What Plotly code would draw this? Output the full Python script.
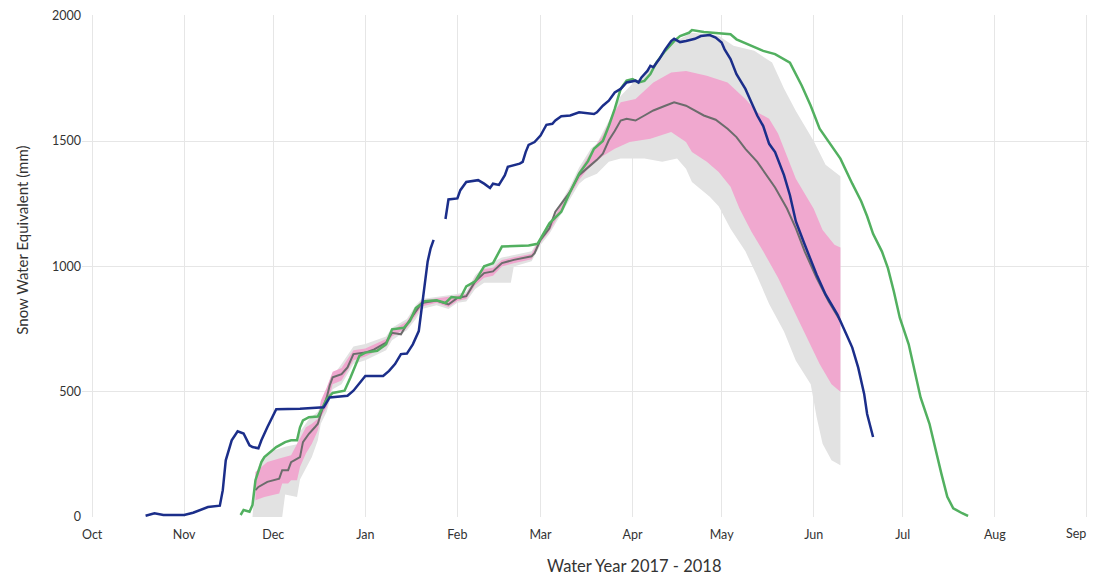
import plotly.graph_objects as go

# ---- Current water year (blue) ----
blue_dates = ["2017-10-19","2017-10-22","2017-10-25","2017-11-01","2017-11-04","2017-11-09","2017-11-13","2017-11-14",
    "2017-11-15","2017-11-17","2017-11-19","2017-11-21","2017-11-23","2017-11-24","2017-11-26","2017-11-27","2017-11-29",
    "2017-12-02","2017-12-10","2017-12-18","2017-12-20","2017-12-26","2017-12-28","2017-12-31","2018-01-01","2018-01-07",
    "2018-01-09","2018-01-11","2018-01-13","2018-01-15","2018-01-17","2018-01-19","2018-01-20","2018-01-21","2018-01-22",
    "2018-01-23","2018-01-24","2018-01-26","2018-01-28","2018-01-29","2018-02-01","2018-02-02","2018-02-04","2018-02-08",
    "2018-02-10","2018-02-12","2018-02-13","2018-02-15","2018-02-17","2018-02-18","2018-02-22","2018-02-23","2018-02-24",
    "2018-02-25","2018-02-27","2018-03-01","2018-03-03","2018-03-05","2018-03-06","2018-03-08","2018-03-11","2018-03-14",
    "2018-03-19","2018-03-20","2018-03-22","2018-03-24","2018-03-26","2018-03-28","2018-03-30","2018-04-02","2018-04-03",
    "2018-04-04","2018-04-06","2018-04-07","2018-04-08","2018-04-10","2018-04-12","2018-04-14","2018-04-15","2018-04-17",
    "2018-04-19","2018-04-22","2018-04-24","2018-04-27","2018-04-29","2018-05-01","2018-05-02","2018-05-04","2018-05-06",
    "2018-05-09","2018-05-11","2018-05-13","2018-05-15","2018-05-17","2018-05-19","2018-05-22","2018-05-24","2018-05-26",
    "2018-05-29","2018-06-02","2018-06-05","2018-06-09","2018-06-12","2018-06-14","2018-06-16","2018-06-18","2018-06-19",
    "2018-06-21"]
blue_swe = [5,15,8,8,17,40,45,107,226,306,342,333,286,279,274,306,358,
    430,432,438,477,484,504,550,563,563,583,610,650,652,689,742,834,914,1020,
    1072,1106,None,1189,1267,1271,1304,1337,1344,1330,1313,1330,1325,1364,1397,1410,1417,1456,
    1485,1496,1522,1565,1569,1582,1599,1602,1615,1608,1615,1641,1661,1694,1708,1734,1741,1734,
    1754,1780,1800,1795,1827,1866,1899,1908,1895,1899,1908,1919,1923,1913,1893,1866,1827,1767,
    1708,1655,1602,1560,1489,1456,1364,1284,1179,1086,967,888,808,729,676,596,491,411,319]

# ---- Comparison year (green) ----
green_dates = ["2017-11-20","2017-11-21","2017-11-23","2017-11-24","2017-11-25","2017-11-27","2017-11-28","2017-11-30",
    "2017-12-02","2017-12-05","2017-12-07","2017-12-09","2017-12-10","2017-12-11","2017-12-13","2017-12-16","2017-12-18",
    "2017-12-19","2017-12-21","2017-12-25","2017-12-27","2017-12-30","2018-01-01","2018-01-05","2018-01-08","2018-01-10",
    "2018-01-14","2018-01-16","2018-01-18","2018-01-21","2018-01-25","2018-01-28","2018-01-30","2018-02-02","2018-02-04",
    "2018-02-07","2018-02-10","2018-02-13","2018-02-16","2018-02-25","2018-02-28","2018-03-01","2018-03-04","2018-03-08",
    "2018-03-11","2018-03-14","2018-03-17","2018-03-19","2018-03-22","2018-03-24","2018-03-26","2018-03-28","2018-03-30",
    "2018-04-01","2018-04-03","2018-04-05","2018-04-07","2018-04-09","2018-04-12","2018-04-15","2018-04-17","2018-04-20",
    "2018-04-21","2018-04-25","2018-05-02","2018-05-04","2018-05-06","2018-05-11","2018-05-15","2018-05-19","2018-05-24",
    "2018-05-28","2018-05-31","2018-06-03","2018-06-07","2018-06-10","2018-06-14","2018-06-17","2018-06-19","2018-06-21",
    "2018-06-24","2018-06-26","2018-06-28","2018-06-30","2018-07-03","2018-07-05","2018-07-07","2018-07-10","2018-07-12",
    "2018-07-14","2018-07-16","2018-07-18","2018-07-21","2018-07-23"]
green_swe = [8,28,21,48,147,219,239,259,279,299,306,306,358,385,398,401,444,
    470,495,504,557,643,656,663,689,749,755,782,834,861,865,854,878,874,920,
    940,1000,1013,1079,1083,1090,1112,1172,1218,1298,1370,1420,1469,1500,1560,1628,1708,1741,
    1747,1734,1740,1767,1813,1860,1899,1919,1932,1943,1935,1930,1926,1906,1880,1860,1847,1813,
    1721,1641,1549,1483,1430,1330,1260,1200,1130,1059,993,900,795,689,583,477,372,266,
    173,81,35,15,4]

# ---- Median ----
med_dates = ["2017-11-25","2017-11-26","2017-11-29","2017-12-03","2017-12-04","2017-12-06","2017-12-07","2017-12-10",
    "2017-12-11","2017-12-13","2017-12-15","2017-12-16","2017-12-17","2017-12-19","2017-12-20","2017-12-21","2017-12-24",
    "2017-12-26","2017-12-28","2018-01-01","2018-01-04","2018-01-08","2018-01-10","2018-01-13","2018-01-15","2018-01-18",
    "2018-01-20","2018-01-25","2018-01-29","2018-02-01","2018-02-04","2018-02-07","2018-02-10","2018-02-13","2018-02-16",
    "2018-02-20","2018-02-26","2018-02-27","2018-03-01","2018-03-04","2018-03-06","2018-03-11","2018-03-14","2018-03-18",
    "2018-03-20","2018-03-22","2018-03-24","2018-03-26","2018-03-28","2018-03-30","2018-04-02","2018-04-05","2018-04-08",
    "2018-04-12","2018-04-15","2018-04-19","2018-04-22","2018-04-25","2018-04-29","2018-05-03","2018-05-06","2018-05-09",
    "2018-05-13","2018-05-16","2018-05-19","2018-05-23","2018-05-26","2018-05-29","2018-06-02","2018-06-06","2018-06-10"]
med_swe = [107,120,140,153,187,187,219,239,299,332,358,372,411,477,525,557,570,
    597,650,656,669,696,735,729,769,821,854,864,848,874,881,940,973,980,1013,
    1026,1040,1053,1106,1152,1218,1298,1364,1405,1425,1450,1503,1540,1582,1589,1582,1602,1622,
    1641,1655,1641,1620,1602,1585,1549,1516,1469,1417,1364,1315,1231,1152,1059,953,861,782]

# ---- Inner (pink) band ----
pink_hi_dates = ["2017-11-25","2017-11-29","2017-12-03","2017-12-07","2017-12-10","2017-12-12","2017-12-14","2017-12-16",
    "2017-12-17","2017-12-19","2017-12-21","2017-12-24","2017-12-28","2018-01-01","2018-01-08","2018-01-10","2018-01-15",
    "2018-01-18","2018-01-20","2018-01-25","2018-02-01","2018-02-04","2018-02-07","2018-02-10","2018-02-13","2018-02-16",
    "2018-02-20","2018-02-26","2018-03-01","2018-03-04","2018-03-11","2018-03-14","2018-03-18","2018-03-22","2018-03-25",
    "2018-03-28","2018-04-02","2018-04-08","2018-04-14","2018-04-19","2018-04-26","2018-05-03","2018-05-09","2018-05-13",
    "2018-05-17","2018-05-20","2018-05-23","2018-05-26","2018-06-01","2018-06-04","2018-06-08","2018-06-10"]
pink_hi = [180,219,233,246,312,358,372,392,464,517,580,595,665,672,710,745,780,
    835,864,872,884,890,955,990,995,1025,1036,1050,1115,1162,1310,1380,1456,1522,1600,
    1655,1668,1734,1774,1780,1761,1734,1668,1615,1589,1530,1440,1350,1230,1145,1086,1075]
pink_lo_dates = ["2017-11-25","2017-11-28","2017-12-03","2017-12-04","2017-12-06","2017-12-07","2017-12-09","2017-12-10",
    "2017-12-12","2017-12-14","2017-12-16","2017-12-17","2017-12-19","2017-12-21","2017-12-24","2017-12-28","2018-01-01",
    "2018-01-08","2018-01-10","2018-01-15","2018-01-18","2018-01-20","2018-01-25","2018-01-29","2018-02-01","2018-02-04",
    "2018-02-07","2018-02-10","2018-02-13","2018-02-16","2018-02-20","2018-02-26","2018-03-01","2018-03-04","2018-03-11",
    "2018-03-14","2018-03-17","2018-03-22","2018-03-26","2018-03-31","2018-04-07","2018-04-14","2018-04-19","2018-04-21",
    "2018-04-26","2018-04-30","2018-05-04","2018-05-07","2018-05-11","2018-05-15","2018-05-20","2018-05-24","2018-05-29",
    "2018-06-03","2018-06-07","2018-06-10"]
pink_lo = [67,80,94,134,134,147,147,200,253,292,345,398,438,530,545,625,640,
    680,720,755,805,840,855,838,862,870,925,955,963,1000,1012,1028,1095,1140,1285,
    1345,1390,1440,1469,1496,1509,1536,1496,1456,1417,1377,1318,1231,1139,1060,955,855,729,
    610,530,500]

# ---- Outer (grey) band ----
grey_hi_dates = ["2017-11-25","2017-11-27","2017-12-01","2017-12-05","2017-12-09","2017-12-10","2017-12-13","2017-12-16",
    "2017-12-18","2017-12-20","2017-12-24","2017-12-28","2018-01-01","2018-01-08","2018-01-10","2018-01-15","2018-01-18",
    "2018-01-20","2018-01-25","2018-02-01","2018-02-04","2018-02-07","2018-02-10","2018-02-16","2018-02-26","2018-03-01",
    "2018-03-04","2018-03-11","2018-03-14","2018-03-18","2018-03-20","2018-03-24","2018-03-28","2018-04-01","2018-04-05",
    "2018-04-10","2018-04-14","2018-04-21","2018-04-30","2018-05-05","2018-05-12","2018-05-18","2018-05-22","2018-05-26",
    "2018-06-01","2018-06-05","2018-06-10"]
grey_hi = [170,230,265,280,290,340,390,420,470,545,610,680,690,720,755,790,845,
    870,880,890,900,965,1000,1035,1060,1120,1175,1320,1395,1470,1490,1580,1680,1730,1760,
    1830,1890,1932,1920,1880,1860,1813,1710,1620,1500,1405,1360]
grey_lo_dates = ["2017-11-24","2017-12-04","2017-12-05","2017-12-09","2017-12-10","2017-12-11","2017-12-14","2017-12-16",
    "2017-12-17","2017-12-19","2017-12-21","2017-12-24","2017-12-28","2018-01-01","2018-01-08","2018-01-10","2018-01-15",
    "2018-01-18","2018-01-20","2018-01-25","2018-01-29","2018-02-01","2018-02-04","2018-02-07","2018-02-10","2018-02-19",
    "2018-02-20","2018-02-26","2018-03-01","2018-03-04","2018-03-11","2018-03-14","2018-03-16","2018-03-20","2018-03-24",
    "2018-03-28","2018-04-05","2018-04-11","2018-04-16","2018-04-19","2018-04-21","2018-04-27","2018-04-30","2018-05-04",
    "2018-05-09","2018-05-13","2018-05-17","2018-05-22","2018-05-26","2018-05-31","2018-06-02","2018-06-04","2018-06-07",
    "2018-06-10"]
grey_lo = [0,0,90,80,150,173,239,306,372,420,510,530,610,625,665,705,745,
    790,830,845,830,855,860,910,935,935,1000,1020,1085,1130,1270,1330,1350,1370,1417,
    1430,1430,1417,1430,1390,1337,1278,1240,1150,1060,960,850,740,623,530,398,292,226,206]

month_ticks = ["2017-10-01","2017-11-01","2017-12-01","2018-01-01","2018-02-01","2018-03-01","2018-04-01",
               "2018-05-01","2018-06-01","2018-07-01","2018-08-01","2018-09-01"]
month_labels = ["Oct","Nov","Dec","Jan","Feb","Mar","Apr","May","Jun","Jul","Aug","Sep"]
swe_ticks = [0, 500, 1000, 1500, 2000]

FONT = "Lato"
TICK_SIZE = 12.5

fig = go.Figure()
fig.add_trace(go.Scatter(x=grey_lo_dates + grey_hi_dates[::-1], y=grey_lo + grey_hi[::-1],
                         fill="toself", fillcolor="#e2e2e2", line=dict(width=0), mode="lines",
                         hoverinfo="skip", showlegend=False))
fig.add_trace(go.Scatter(x=pink_lo_dates + pink_hi_dates[::-1], y=pink_lo + pink_hi[::-1],
                         fill="toself", fillcolor="#f0a8cf", line=dict(width=0), mode="lines",
                         hoverinfo="skip", showlegend=False))
fig.add_trace(go.Scatter(x=med_dates, y=med_swe, mode="lines",
                         line=dict(color="#6c6c6c", width=2), showlegend=False))
fig.add_trace(go.Scatter(x=green_dates, y=green_swe, mode="lines",
                         line=dict(color="#52b060", width=2.5), showlegend=False))
fig.add_trace(go.Scatter(x=blue_dates, y=blue_swe, mode="lines", connectgaps=False,
                         line=dict(color="#1b2e8a", width=2.5), showlegend=False))

# The page body has an 8px default margin, so the figure is sized to fit inside it.
W, H = 1089, 571
L, R, T, B = 74, 0, 4, 62
PW, PH = W - L - R, H - T - B
YMAX = 2003

def py(win_y):
    """paper y fraction for a window pixel row (window = figure + 8px offset)."""
    fig_y = win_y - 8
    return (H - B - fig_y) / PH

def px(win_x):
    fig_x = win_x - 8
    return (fig_x - L) / PW

# The last month label sits on the right page edge; it is drawn right-aligned so it stays whole.
axis_labels = month_labels[:-1] + [""]

fig.update_layout(
    width=W, height=H,
    margin=dict(l=L, r=R, t=T, b=B),
    paper_bgcolor="white", plot_bgcolor="white",
    font=dict(family=FONT, color="#333"),
    xaxis=dict(range=["2017-09-27 14:00", "2018-09-04 10:00"], tickmode="array",
               tickvals=month_ticks, ticktext=axis_labels,
               showgrid=True, gridcolor="#e6e6e6", gridwidth=1, zeroline=False,
               showline=False, ticks="", ticklabelstandoff=8, ticklabeloverflow="allow",
               tickfont=dict(size=TICK_SIZE, color="#333")),
    yaxis=dict(range=[0, YMAX], tickvals=swe_ticks,
               showgrid=True, gridcolor="#e6e6e6", gridwidth=1, zeroline=False,
               showline=False, ticks="", ticklabeloverflow="allow",
               tickfont=dict(size=TICK_SIZE, color="#333")),
    annotations=[
        dict(text=month_labels[-1], xref="paper", yref="paper",
             x=px(1088), y=py(534), xanchor="right", yanchor="middle",
             showarrow=False, font=dict(size=TICK_SIZE, color="#333", family=FONT)),
        dict(text="Water Year 2017 - 2018", xref="paper", yref="paper",
             x=px(634), y=py(566), xanchor="center", yanchor="middle",
             showarrow=False, font=dict(size=16.5, color="#333", family=FONT)),
        dict(text="Snow Water Equivalent (mm)", xref="paper", yref="paper",
             x=px(22), y=py(239), xanchor="center", yanchor="middle",
             textangle=-90, showarrow=False, font=dict(size=15, color="#333", family=FONT)),
    ],
)

fig.write_html("out.html")
